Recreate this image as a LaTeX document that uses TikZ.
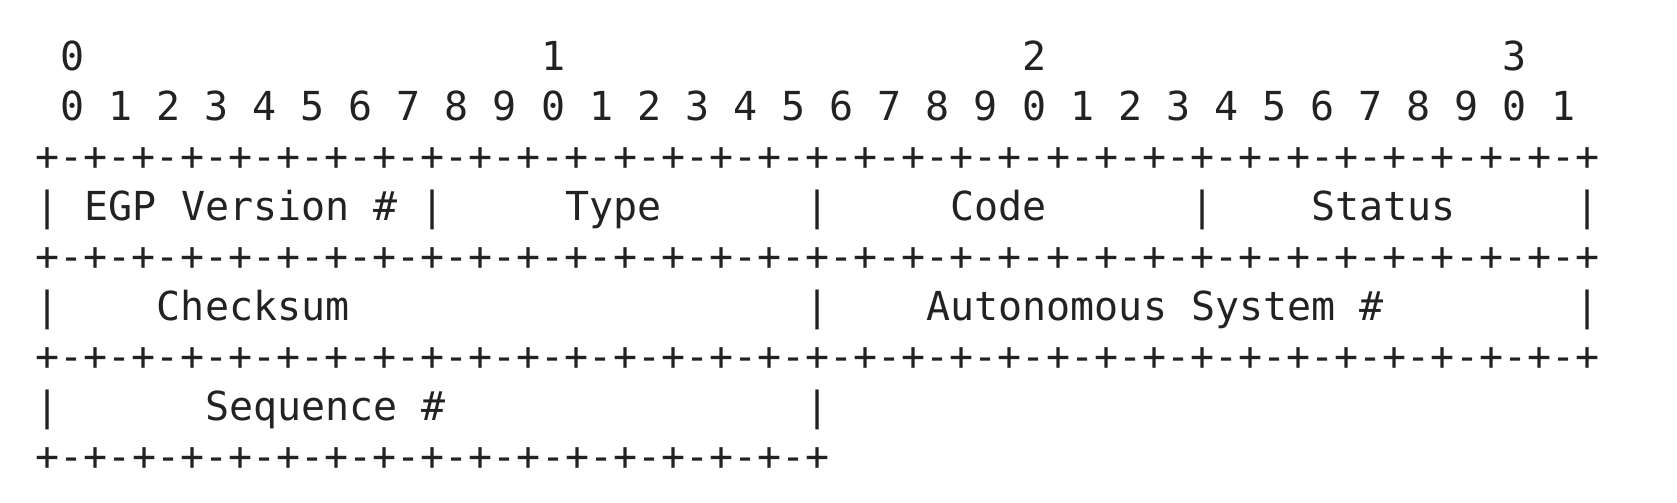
\documentclass[tikz,border=0pt]{standalone}
\usepackage{fontspec}
\newfontfamily\asciimono{DejaVu Sans Mono}
\usetikzlibrary{positioning}
\definecolor{tinta}{HTML}{222222}

\begin{document}
\begin{tikzpicture}[
x=0.2405cm,
y=-0.5cm,
celda/.style={
    font=\asciimono\fontsize{11.37pt}{13pt}\selectfont,
    text=tinta,
    inner sep=0pt,
    anchor=base
},
campo/.style={
    celda,
    anchor=base west
}
]
\useasboundingbox (-0.48cm,0.2cm) rectangle (16.29cm,-4.82cm);

% Regla de bits
\foreach \d in {0,...,3}
    \node[celda] (dec\d) at (1+20*\d,1) {\d};
\foreach \b in {0,...,31}{
    \pgfmathtruncatemacro{\u}{mod(\b,10)}
    \node[celda] (bit\b) at (1+2*\b,2) {\u};
}

% Bordes
\foreach \r in {3,5,7}
    \node[celda] (borde\r) at (32,\r)
    {+-+-+-+-+-+-+-+-+-+-+-+-+-+-+-+-+-+-+-+-+-+-+-+-+-+-+-+-+-+-+-+-+};
\node[celda] (borde9) at (16,9) {+-+-+-+-+-+-+-+-+-+-+-+-+-+-+-+-+};

% Separadores
\foreach \c in {0,16,32,48,64}
    \node[celda] (sepa\c) at (\c,4) {|};
\foreach \c in {0,32,64}
    \node[celda] (sepb\c) at (\c,6) {|};
\foreach \c in {0,32}
    \node[celda] (sepc\c) at (\c,8) {|};

% Campos
\node[campo] (version) at (1.5,4) {EGP Version \#};
\node[campo] (tipo) at (21.5,4) {Type};
\node[campo] (codigo) at (37.5,4) {Code};
\node[campo] (estado) at (52.5,4) {Status};

\node[campo] (checksum) at (4.5,6) {Checksum};
\node[campo] (sistema) at (36.5,6) {Autonomous System \#};

\node[campo] (secuencia) at (6.5,8) {Sequence \#};

\end{tikzpicture}
\end{document}
